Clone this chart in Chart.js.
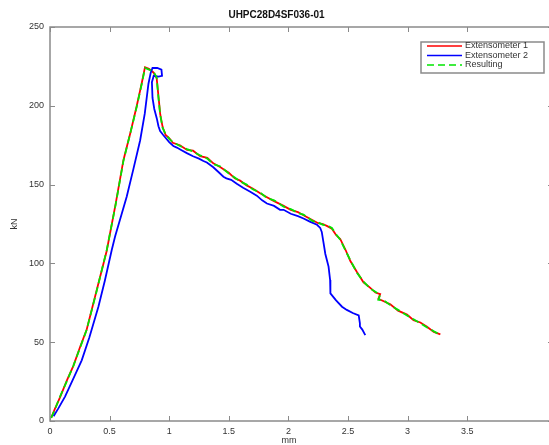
<!DOCTYPE html>
<html>
<head>
<meta charset="utf-8">
<script src="https://cdn.jsdelivr.net/npm/chart.js@4.4.0/dist/chart.umd.min.js"></script>
<style>
  html, body { margin: 0; padding: 0; background: #fff; overflow: hidden; }
  #wrap { width: 578px; height: 452px; }
</style>
</head>
<body>
<div id="wrap"><canvas id="uhpcChart" width="578" height="452"></canvas></div>
<script>
// data (mm / kN)
const ext1Mm = [0.01,0.04,0.084,0.14,0.196,0.25,0.308,0.39,0.476,0.55,0.616,0.675,0.728,0.77,0.797,0.83,0.87,0.895,0.91,0.925,0.945,0.97,1.0,1.03,1.09,1.15,1.2,1.26,1.32,1.37,1.43,1.5,1.55,1.595,1.65,1.7,1.763,1.82,1.88,1.96,2.02,2.08,2.127,2.2,2.25,2.29,2.33,2.365,2.4,2.435,2.48,2.52,2.575,2.63,2.687,2.73,2.77,2.755,2.8,2.855,2.92,2.995,3.05,3.107,3.16,3.22,3.275];
const ext1Kn = [2,7.5,15,25.5,35,46.5,58,82.5,108,137.5,165.5,183,200,214.5,224.5,223.5,221,217.5,206,194.5,186.5,181.5,179.5,176.5,175,172,171.5,168,167,163.5,161,157.5,154,152.5,149.5,147.5,144.5,142,139.5,136.5,134,132.5,130.5,127.5,125.5,125,123.5,122,118,115.5,108.5,101.5,94.5,88,84.5,81.5,80.5,77.5,76,74,70,67.5,64,62.5,60,56.5,55];

const ext2Mm = [0.03,0.07,0.126,0.19,0.266,0.33,0.406,0.46,0.518,0.546,0.6,0.644,0.7,0.756,0.795,0.826,0.845,0.86,0.9,0.935,0.94,0.91,0.87,0.855,0.86,0.875,0.896,0.91,0.924,0.95,1.0,1.035,1.064,1.1,1.148,1.2,1.25,1.287,1.316,1.37,1.42,1.455,1.48,1.52,1.567,1.62,1.68,1.735,1.78,1.82,1.88,1.93,1.96,2.02,2.08,2.127,2.18,2.24,2.267,2.28,2.295,2.31,2.337,2.35,2.355,2.35,2.4,2.45,2.49,2.54,2.59,2.6,2.6,2.62,2.645];
const ext2Kn = [3,8,15.5,26,38.5,53,72.5,89,108.5,117,131,142.5,160,178,195,214,221,224,224,223,219,218.5,219,215,205,198,192,187,184,181.5,177,174.5,173.5,172,170,168,166.5,165,164,161,157.5,155,154,153,150.5,148,145.5,143,140,138,136.5,134,134,131.5,130,128.5,126.5,124.5,122.5,120,113,106,98,89.5,84,81,76.5,72.5,70.5,68.5,67,62,60,58,54.5];

const resMm = [0.01,0.04,0.084,0.14,0.196,0.25,0.308,0.39,0.476,0.55,0.616,0.675,0.728,0.77,0.797,0.83,0.87,0.895,0.91,0.925,0.945,0.97,1.0,1.03,1.09,1.15,1.2,1.26,1.32,1.37,1.43,1.5,1.55,1.595,1.65,1.7,1.763,1.82,1.88,1.96,2.02,2.08,2.127,2.2,2.25,2.29,2.33,2.365,2.4,2.435,2.48,2.52,2.575,2.63,2.687,2.73,2.77,2.755,2.8,2.855,2.92,2.995,3.05,3.107,3.16,3.22,3.275];
const resKn = [2,7,15.5,25,35,46,58,82,108.5,137,165,183,199.5,214,224,223,221.5,218,205,194,186,182,179,177,174.5,172.5,171,168.5,166.5,163,161.5,157,154.5,152,150,147,145,141.5,140,136,134.5,132,131,127,126,124.5,124,122.5,118.5,115,108,102,94,88.5,84,82,80,77,76.5,73.5,70.5,67,64.5,62,59.5,57,54.5];

const xTicksShown = 3.5;
const axisColor = '#8a8a8a';
const textColor = '#333';
const fontFam = '"Liberation Sans", Arial, sans-serif';

const pts = (xs, ys) => xs.map((v, i) => ({ x: v, y: ys[i] }));

// box, inward ticks, legend, x label
const framePlugin = {
    id: 'frame',
    afterDraw(chart) {
        const { ctx, chartArea: a, scales: { x, y } } = chart;
        ctx.save();
        ctx.strokeStyle = axisColor;
        ctx.lineWidth = 1.5;
        ctx.strokeRect(a.left, a.top, a.right - a.left, a.bottom - a.top);
        ctx.beginPath();
        x.ticks.forEach(t => {
            const px = Math.round(x.getPixelForValue(t.value)) + 0.5;
            ctx.moveTo(px, a.bottom); ctx.lineTo(px, a.bottom - 5);
            ctx.moveTo(px, a.top); ctx.lineTo(px, a.top + 5);
        });
        y.ticks.forEach(t => {
            const py = Math.round(y.getPixelForValue(t.value)) + 0.5;
            ctx.moveTo(a.left, py); ctx.lineTo(a.left + 5, py);
            ctx.moveTo(a.right, py); ctx.lineTo(a.right - 5, py);
        });
        ctx.lineWidth = 1;
        ctx.stroke();

        // legend
        const bx = a.right - 132, by = a.top + 15, bw = 123, bh = 31;
        ctx.fillStyle = '#fff';
        ctx.fillRect(bx, by, bw, bh);
        ctx.strokeStyle = axisColor;
        ctx.lineWidth = 1.5;
        ctx.strokeRect(bx, by, bw, bh);
        ctx.font = '9px ' + fontFam;
        ctx.textBaseline = 'middle';
        ctx.textAlign = 'left';
        chart.data.datasets.forEach((ds, i) => {
            const ry = by + 4 + i * 9.5;
            ctx.strokeStyle = ds.borderColor;
            ctx.lineWidth = 1.5;
            ctx.setLineDash(ds.borderDash || []);
            ctx.beginPath();
            ctx.moveTo(bx + 6, ry); ctx.lineTo(bx + 41, ry);
            ctx.stroke();
            ctx.setLineDash([]);
            ctx.fillStyle = textColor;
            ctx.fillText(ds.label, bx + 44, ry);
        });

        // x axis label
        ctx.textAlign = 'center';
        ctx.fillText('mm', chart.width / 2, 441);
        ctx.restore();
    }
};

const tickFmt = v => String(Number(v.toFixed(2)));

new Chart(document.getElementById('uhpcChart'), {
    type: 'scatter',
    data: {
        datasets: [{
            label: 'Extensometer 1',
            data: pts(ext1Mm, ext1Kn),
            borderColor: 'rgb(255, 0, 0)',
            borderWidth: 1.8,
            order: 2
        }, {
            label: 'Extensometer 2',
            data: pts(ext2Mm, ext2Kn),
            borderColor: 'rgb(0, 0, 255)',
            borderWidth: 1.8,
            order: 1
        }, {
            label: 'Resulting',
            data: pts(resMm, resKn),
            borderColor: 'rgb(0, 230, 0)',
            borderWidth: 1.8,
            borderDash: [7, 4],
            order: 0
        }]
    },
    options: {
        responsive: false,
        animation: false,
        showLine: true,
        elements: { point: { radius: 0 }, line: { tension: 0 } },
        layout: { padding: { left: 0, right: 25, top: 0, bottom: 0 } },
        plugins: {
            legend: { display: false },
            tooltip: { enabled: false },
            title: {
                display: true,
                text: 'UHPC28D4SF036-01',
                color: '#111',
                font: { family: fontFam, size: 10, weight: 'bold' },
                padding: { top: 9, bottom: 6 }
            }
        },
        scales: {
            x: {
                type: 'linear',
                min: 0,
                max: 4.22,
                afterBuildTicks: s => { s.ticks = s.ticks.filter(t => t.value <= xTicksShown); },
                afterFit: s => { s.height = 31; },
                ticks: { stepSize: 0.5, padding: 5, color: textColor, font: { family: fontFam, size: 9 }, callback: tickFmt },
                grid: { display: true, drawOnChartArea: false, drawTicks: false },
                border: { display: false }
            },
            y: {
                min: 0,
                max: 250,
                afterFit: s => { s.width = 50; },
                ticks: { stepSize: 50, padding: 6, color: textColor, font: { family: fontFam, size: 9 }, callback: tickFmt },
                grid: { display: true, drawOnChartArea: false, drawTicks: false },
                border: { display: false },
                title: {
                    display: true,
                    text: 'kN',
                    color: textColor,
                    font: { family: fontFam, size: 9 },
                    padding: { top: 9, bottom: 0 }
                }
            }
        }
    },
    plugins: [framePlugin]
});
</script>
</body>
</html>
